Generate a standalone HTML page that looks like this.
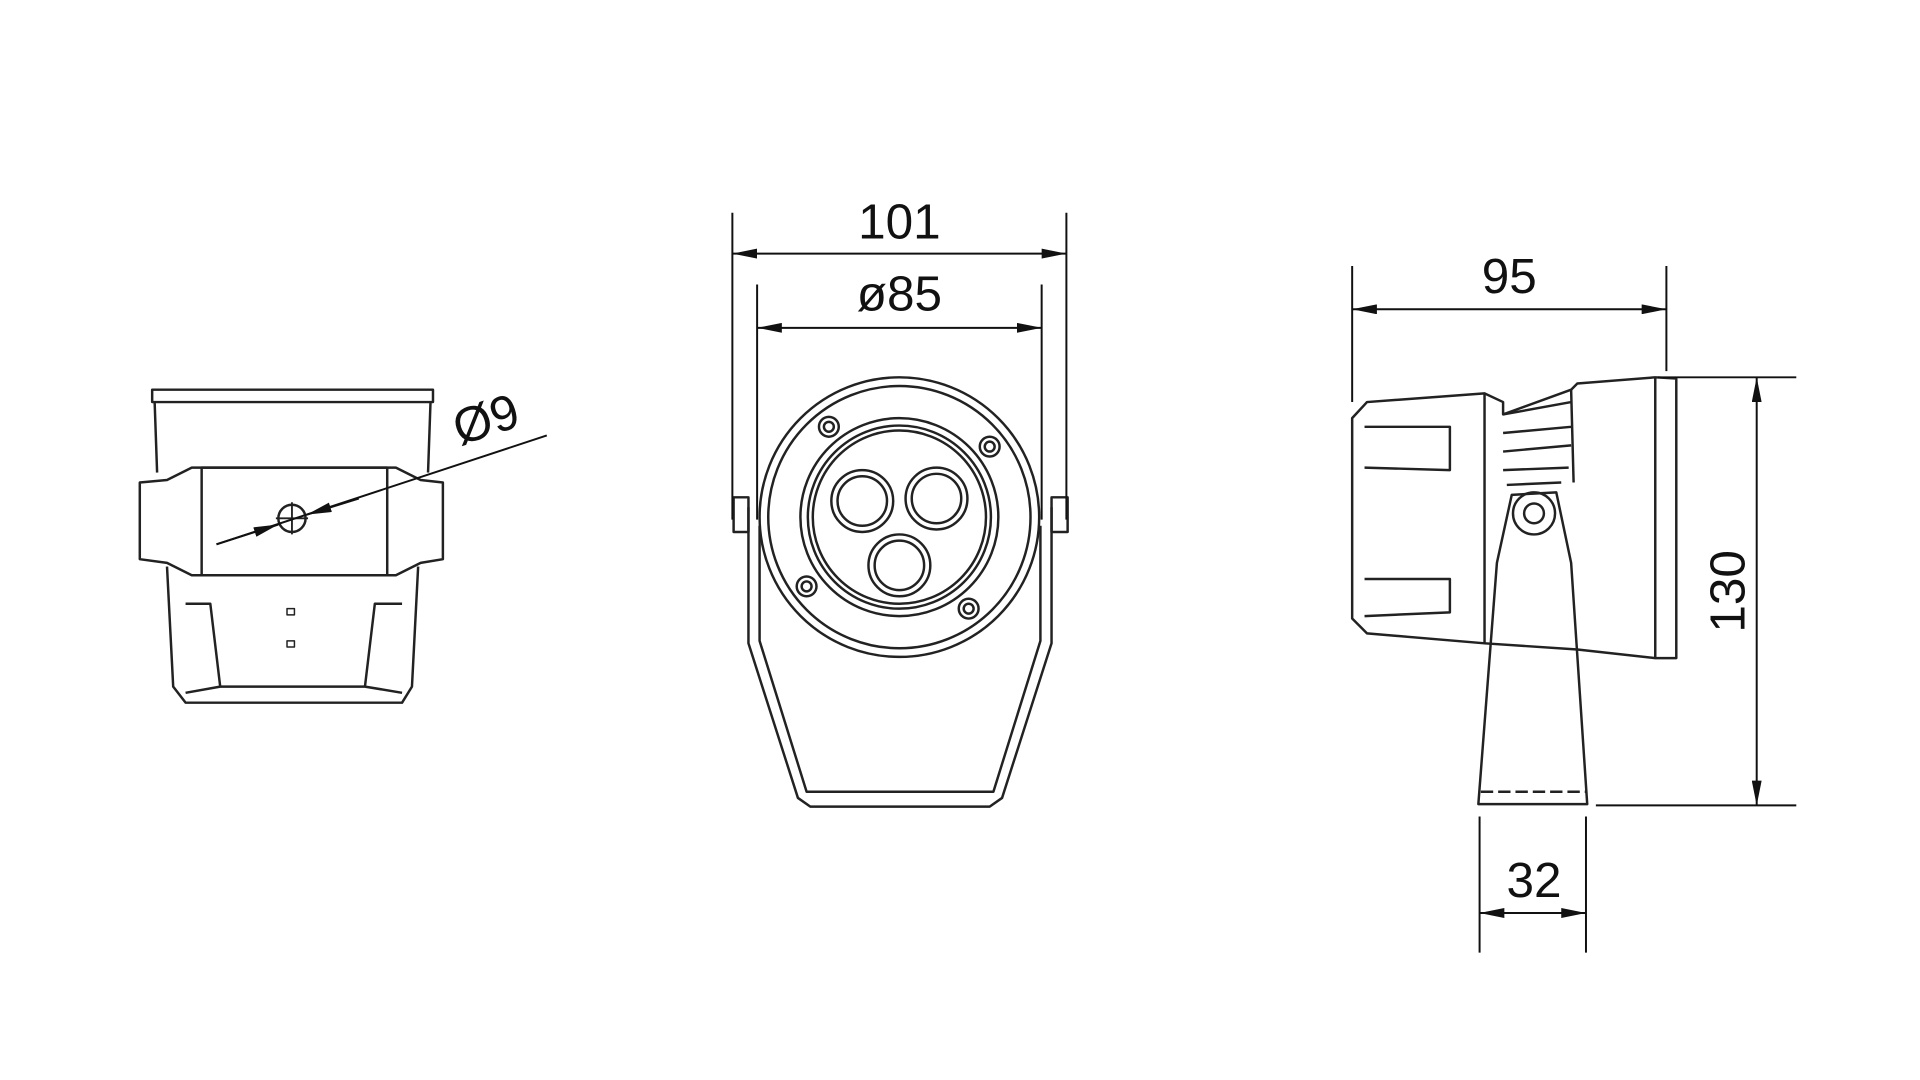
<!DOCTYPE html>
<html><head><meta charset="utf-8"><style>
html,body{margin:0;padding:0;background:#fff;width:1920px;height:1080px;overflow:hidden}
svg{display:block}
text{font-family:"Liberation Sans","DejaVu Sans",sans-serif;fill:#111}
</style></head><body>
<svg width="1920" height="1080" viewBox="0 0 1552 873" preserveAspectRatio="none" xmlns="http://www.w3.org/2000/svg">
<defs>
<marker id="a" viewBox="0 0 20 8" refX="20" refY="4" markerWidth="20" markerHeight="8" orient="auto-start-reverse" markerUnits="userSpaceOnUse"><path d="M0,0 L20,4 L0,8 z" fill="#111"/></marker>
</defs>
<g fill="none" stroke="#222" stroke-width="2" stroke-linejoin="round">
<rect x="123" y="315" width="227" height="10"/>
<path d="M125,325 L127,382 M348,325 L346,382"/>
<path d="M155,378 L320,378 L340,388 L358,390 L358,452 L340,455 L320,465 L155,465 L135,455 L113,452 L113,390 L135,388 Z"/>
<rect x="163" y="378" width="150" height="87"/>
<path d="M135,458 L140,555 L150,568 L325,568 L333,555 L338,458"/>
<path d="M150,488 L170,488 L178,555 L150,560 M325,488 L303,488 L295,555 L325,560 M178,555 L295,555"/>
<circle cx="236" cy="419" r="11"/>
<path d="M223,419 L249,419 M236,406 L236,432" stroke-width="1.5"/>
<rect x="232" y="492" width="6" height="5" stroke-width="1.2"/>
<rect x="232" y="518" width="6" height="5" stroke-width="1.2"/>
<circle cx="727" cy="418" r="113"/>
<circle cx="727" cy="418" r="106"/>
<circle cx="727" cy="418" r="80"/>
<circle cx="727" cy="418" r="74"/>
<circle cx="727" cy="418" r="70"/>
<circle cx="697" cy="405" r="25"/><circle cx="697" cy="405" r="20"/>
<circle cx="757" cy="403" r="25"/><circle cx="757" cy="403" r="20"/>
<circle cx="727" cy="457" r="25"/><circle cx="727" cy="457" r="20"/>
<circle cx="670" cy="345" r="8"/><circle cx="670" cy="345" r="4"/>
<circle cx="800" cy="361" r="8"/><circle cx="800" cy="361" r="4"/>
<circle cx="652" cy="474" r="8"/><circle cx="652" cy="474" r="4"/>
<circle cx="783" cy="492" r="8"/><circle cx="783" cy="492" r="4"/>
<path d="M605,410 L605,520 L645,645 L655,652 L800,652 L810,645 L850,520 L850,410"/>
<path d="M614,425 L614,518 L652,640 L803,640 L841,518 L841,425"/>
<rect x="593" y="402" width="12" height="28"/>
<rect x="850" y="402" width="13" height="28"/>
<path d="M1105,325 L1200,318 L1215,325 L1215,335 L1270,315 L1275,310 L1338,305 L1355,306 L1355,532 L1338,532 L1275,525 L1200,520 L1105,512 L1093,500 L1093,338 Z"/>
<path d="M1338,305 L1338,532 M1103,345 L1172,345 L1172,380 L1103,378 M1103,468 L1172,468 L1172,495 L1103,498 M1200,318 L1200,520"/>
<path d="M1215,335 L1270,325 M1215,350 L1270,345 M1215,365 L1270,360 M1215,380 L1268,378 M1218,392 L1262,390 M1270,315 L1272,390"/>
<path d="M1210,455 L1222,400 L1258,398 L1270,455 L1283,650 L1195,650 Z"/>
<circle cx="1240" cy="415" r="17"/><circle cx="1240" cy="415" r="8"/>
<path d="M1197,640 L1283,640" stroke-dasharray="10,4"/>
</g>
<g stroke="#111" stroke-width="1.6" fill="none">
<path d="M592,172 L592,420 M862,172 L862,420"/>
<path d="M592,205 L862,205" marker-start="url(#a)" marker-end="url(#a)"/>
<path d="M612,230 L612,420 M842,230 L842,420"/>
<path d="M612,265 L842,265" marker-start="url(#a)" marker-end="url(#a)"/>
<path d="M1093,215 L1093,325 M1347,215 L1347,300"/>
<path d="M1093,250 L1347,250" marker-start="url(#a)" marker-end="url(#a)"/>
<path d="M1340,305 L1452,305 M1290,651 L1452,651"/>
<path d="M1420,305 L1420,651" marker-start="url(#a)" marker-end="url(#a)"/>
<path d="M1196,660 L1196,770 M1282,660 L1282,770"/>
<path d="M1196,738 L1282,738" marker-start="url(#a)" marker-end="url(#a)"/>
<path d="M175,440 L442,352"/>
<path d="M175,440 L225,424" marker-end="url(#a)"/>
<path d="M290,403 L248,416" marker-end="url(#a)"/>
</g>
<text x="727" y="193" font-size="40" text-anchor="middle">101</text>
<text x="727" y="251" font-size="40" text-anchor="middle">ø85</text>
<text x="1220" y="237" font-size="40" text-anchor="middle">95</text>
<text x="1240" y="725" font-size="40" text-anchor="middle">32</text>
<text transform="translate(1410,478) rotate(-90)" font-size="40" text-anchor="middle">130</text>
<text transform="translate(397,352) rotate(-18)" font-size="40" text-anchor="middle">Ø9</text>
</svg>
</body></html>
